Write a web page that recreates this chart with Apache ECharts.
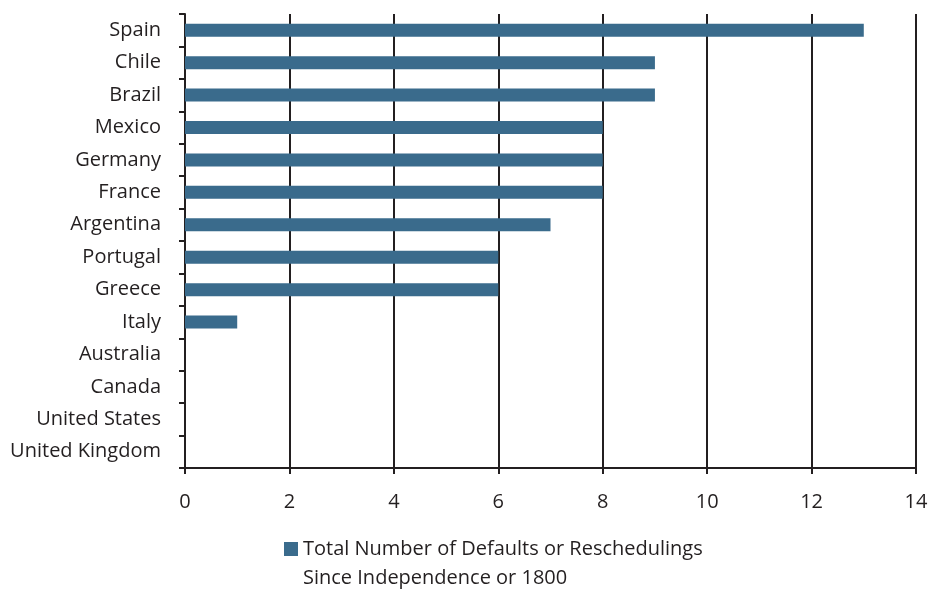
<!DOCTYPE html>
<html>
<head>
<meta charset="utf-8">
<script src="https://cdn.jsdelivr.net/npm/echarts@6/dist/echarts.min.js"></script>
<style>html,body{margin:0;padding:0;background:#fff;}#c{width:937px;height:589px;}</style>
</head>
<body>
<div id="c"></div>
<script>
const countries = ["Spain","Chile","Brazil","Mexico","Germany","France","Argentina","Portugal","Greece","Italy","Australia","Canada","United States","United Kingdom"];
const defaults = [13,9,9,8,8,8,7,6,6,1,0,0,0,0];
const xTicks = [0,2,4,6,8,10,12,14];
const legendLines = ["Total Number of Defaults or Reschedulings", "Since Independence or 1800"];

const chart = echarts.init(document.getElementById('c'), null, {renderer:'canvas'});
const ink = '#231f20';
const barColor = '#3a6b8c';
const font = '"Open Sans", "Noto Sans", sans-serif';
chart.setOption({
  animation: false,
  textStyle: {fontFamily: font},
  grid: {left: 185, right: 21, top: 14, bottom: 121, containLabel: false},
  xAxis: {
    type: 'value', min: xTicks[0], max: xTicks[xTicks.length-1], interval: 2,
    axisLine: {show: true, lineStyle: {color: ink, width: 2}},
    axisTick: {show: true, length: 6, lineStyle: {color: ink, width: 2}},
    axisLabel: {color: ink, fontSize: 20, margin: 24, fontFamily: font},
    splitLine: {show: true, lineStyle: {color: ink, width: 2}}
  },
  yAxis: {
    type: 'category', data: countries, inverse: true,
    axisLine: {show: true, lineStyle: {color: ink, width: 2}},
    axisTick: {show: true, length: 6, lineStyle: {color: ink, width: 2}},
    axisLabel: {color: ink, fontSize: 20, margin: 24, fontFamily: font}
  },
  graphic: [
    {type: 'rect', left: 284, top: 542, shape: {width: 14, height: 14}, style: {fill: barColor}},
    {type: 'text', left: 303, top: 539, style: {text: legendLines[0], fill: ink, font: '20px ' + font}},
    {type: 'text', left: 303, top: 568, style: {text: legendLines[1], fill: ink, font: '20px ' + font}}
  ],
  series: [{
    name: legendLines.join(' '), type: 'bar', data: defaults, barWidth: 13,
    itemStyle: {color: barColor}
  }]
});
</script>
</body>
</html>
